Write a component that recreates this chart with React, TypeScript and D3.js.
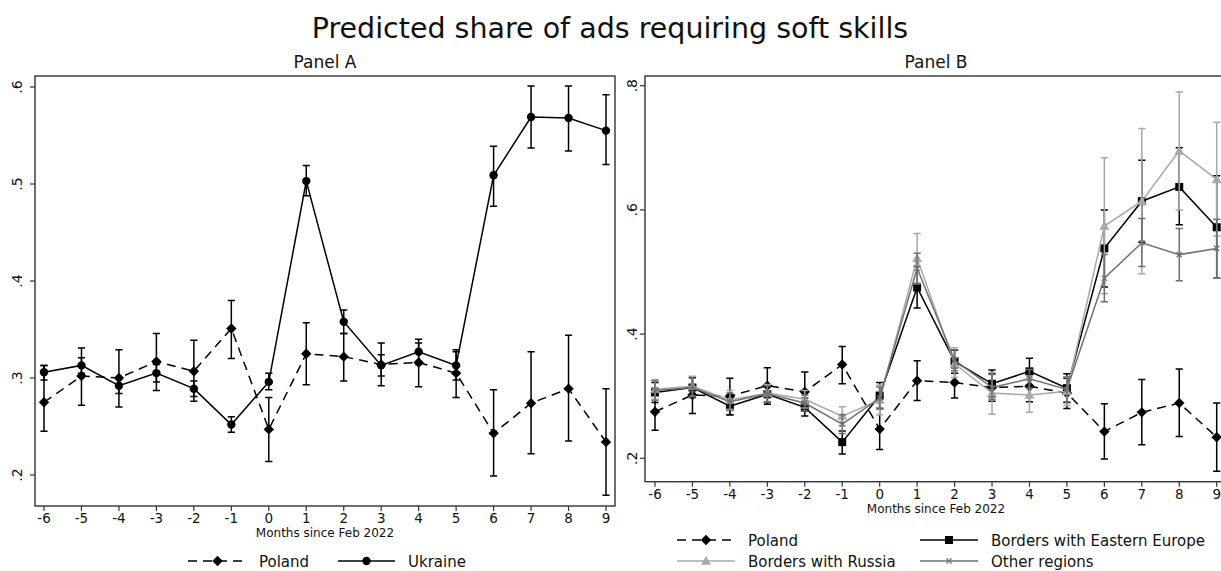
import React from "react";
import * as d3 from "d3";

const months = [-6, -5, -4, -3, -2, -1, 0, 1, 2, 3, 4, 5, 6, 7, 8, 9];

const polandVals = [0.275, 0.302, 0.300, 0.317, 0.307, 0.351, 0.247, 0.325, 0.322, 0.314, 0.316, 0.305, 0.243, 0.274, 0.289, 0.234];
const polandLo = [0.245, 0.272, 0.270, 0.287, 0.276, 0.320, 0.214, 0.293, 0.297, 0.292, 0.291, 0.280, 0.199, 0.222, 0.235, 0.179];
const polandHi = [0.313, 0.331, 0.329, 0.346, 0.339, 0.380, 0.280, 0.357, 0.346, 0.336, 0.336, 0.329, 0.288, 0.327, 0.344, 0.289];

const ukraineVals = [0.306, 0.313, 0.292, 0.305, 0.289, 0.252, 0.296, 0.503, 0.358, 0.313, 0.327, 0.313, 0.509, 0.569, 0.568, 0.555];
const ukraineLo = [0.298, 0.305, 0.284, 0.296, 0.281, 0.244, 0.288, 0.488, 0.346, 0.302, 0.314, 0.298, 0.477, 0.537, 0.534, 0.520];
const ukraineHi = [0.313, 0.321, 0.300, 0.314, 0.297, 0.260, 0.305, 0.519, 0.370, 0.324, 0.340, 0.327, 0.539, 0.601, 0.601, 0.592];

const eeVals = [0.306, 0.314, 0.284, 0.303, 0.282, 0.226, 0.301, 0.475, 0.356, 0.320, 0.340, 0.313, 0.538, 0.614, 0.637, 0.572];
const eeLo = [0.290, 0.298, 0.270, 0.290, 0.268, 0.207, 0.280, 0.442, 0.337, 0.299, 0.318, 0.290, 0.476, 0.548, 0.576, 0.490];
const eeHi = [0.322, 0.330, 0.299, 0.317, 0.297, 0.244, 0.322, 0.509, 0.374, 0.342, 0.361, 0.336, 0.600, 0.680, 0.700, 0.655];

const russiaVals = [0.311, 0.316, 0.294, 0.305, 0.295, 0.268, 0.294, 0.522, 0.352, 0.305, 0.302, 0.308, 0.574, 0.614, 0.695, 0.649];
const russiaLo = [0.295, 0.300, 0.279, 0.291, 0.281, 0.253, 0.270, 0.481, 0.330, 0.271, 0.274, 0.285, 0.465, 0.497, 0.600, 0.558];
const russiaHi = [0.327, 0.332, 0.309, 0.319, 0.309, 0.283, 0.318, 0.562, 0.378, 0.338, 0.330, 0.331, 0.684, 0.731, 0.790, 0.741];

const otherVals = [0.309, 0.314, 0.291, 0.304, 0.289, 0.255, 0.297, 0.506, 0.358, 0.314, 0.328, 0.311, 0.490, 0.547, 0.528, 0.538];
const otherLo = [0.293, 0.299, 0.277, 0.291, 0.276, 0.240, 0.280, 0.482, 0.341, 0.295, 0.313, 0.291, 0.452, 0.509, 0.486, 0.490];
const otherHi = [0.325, 0.329, 0.305, 0.317, 0.302, 0.270, 0.315, 0.530, 0.375, 0.335, 0.343, 0.331, 0.528, 0.586, 0.570, 0.585];

const yTicksA = [0.2, 0.3, 0.4, 0.5, 0.6];
const yTicksB = [0.2, 0.4, 0.6, 0.8];
const fmt = (v: number) => d3.format(".1f")(v).replace(/^0/, "");

const FONT = "DejaVu Sans, Verdana, sans-serif";

type Marker = "diamond" | "circle" | "square" | "triangle" | "x";
type Series = { name: string; vals: number[]; lo: number[]; hi: number[]; color: string; dash?: string; marker: Marker };

function MarkerShape({ kind, x, y, color }: { kind: Marker; x: number; y: number; color: string }) {
  if (kind === "diamond") {
    const r = 5.2;
    return <path d={`M${x},${y - r}L${x + r},${y}L${x},${y + r}L${x - r},${y}Z`} fill={color} />;
  }
  if (kind === "circle") return <circle cx={x} cy={y} r={4.2} fill={color} />;
  if (kind === "square") return <rect x={x - 4} y={y - 4} width={8} height={8} fill={color} />;
  if (kind === "triangle") {
    const r = 5;
    return <path d={`M${x},${y - r}L${x + r},${y + r * 0.75}L${x - r},${y + r * 0.75}Z`} fill={color} />;
  }
  const r = 2.6;
  return <path d={`M${x - r},${y - r}L${x + r},${y + r}M${x - r},${y + r}L${x + r},${y - r}`} stroke={color} strokeWidth={1.3} />;
}

function Panel({ title, series, xRange, yDomain, yRange, frame, yTicks, yLabelOffset }: {
  title: string; series: Series[]; xRange: [number, number]; yDomain: [number, number]; yRange: [number, number];
  frame: { l: number; r: number; t: number; b: number }; yTicks: number[]; yLabelOffset: number;
}) {
  const x = d3.scaleLinear().domain([-6, 9]).range(xRange);
  const y = d3.scaleLinear().domain(yDomain).range(yRange);
  const cx = (frame.l + frame.r) / 2;
  const cap = 3.6;
  return (
    <g>
      <text x={cx} y={68} textAnchor="middle" fontSize={17} fontFamily={FONT} fill="#111">{title}</text>
      <rect x={frame.l} y={frame.t} width={frame.r - frame.l} height={frame.b - frame.t} fill="none" stroke="#333" strokeWidth={1.4} />
      {yTicks.map((t) => (
        <g key={t}>
          <line x1={frame.l - 5} x2={frame.l} y1={y(t)} y2={y(t)} stroke="#333" strokeWidth={1.2} />
          <text transform={`translate(${frame.l - yLabelOffset},${y(t)}) rotate(-90)`} textAnchor="middle" fontSize={14} fontFamily={FONT} fill="#111">{fmt(t)}</text>
        </g>
      ))}
      {months.map((m) => (
        <g key={m}>
          <line x1={x(m)} x2={x(m)} y1={frame.b} y2={frame.b + 5} stroke="#333" strokeWidth={1.2} />
          <text x={x(m)} y={frame.b + 17} textAnchor="middle" fontSize={13.5} fontFamily={FONT} fill="#111">{m}</text>
        </g>
      ))}
      <text x={cx} y={frame.b + 31} textAnchor="middle" fontSize={12} fontFamily={FONT} fill="#111">Months since Feb 2022</text>
      {series.map((s) => {
        const line = d3.line<number>().x((_, i) => x(months[i])).y((v) => y(v));
        return (
          <g key={s.name}>
            {months.map((m, i) => (
              <path key={m}
                d={`M${x(m) - cap},${y(s.hi[i])}H${x(m) + cap}M${x(m)},${y(s.hi[i])}V${y(s.lo[i])}M${x(m) - cap},${y(s.lo[i])}H${x(m) + cap}`}
                stroke={s.color} strokeWidth={1.5} fill="none" />
            ))}
            <path d={line(s.vals) || ""} fill="none" stroke={s.color} strokeWidth={1.5} strokeDasharray={s.dash} />
            {months.map((m, i) => (
              <MarkerShape key={m} kind={s.marker} x={x(m)} y={y(s.vals[i])} color={s.color} />
            ))}
          </g>
        );
      })}
    </g>
  );
}

function LegendItem({ s, x1, x2, tx, y }: { s: Series; x1: number; x2: number; tx: number; y: number }) {
  return (
    <g>
      <line x1={x1} x2={x2} y1={y} y2={y} stroke={s.color} strokeWidth={1.5} strokeDasharray={s.dash} />
      <MarkerShape kind={s.marker} x={(x1 + x2) / 2} y={y} color={s.color} />
      <text x={tx} y={y + 5.5} fontSize={15} fontFamily={FONT} fill="#111">{s.name}</text>
    </g>
  );
}

export default function App() {
  const poland: Series = { name: "Poland", vals: polandVals, lo: polandLo, hi: polandHi, color: "#000", dash: "9,6", marker: "diamond" };
  const ukraine: Series = { name: "Ukraine", vals: ukraineVals, lo: ukraineLo, hi: ukraineHi, color: "#000", marker: "circle" };
  const ee: Series = { name: "Borders with Eastern Europe", vals: eeVals, lo: eeLo, hi: eeHi, color: "#000", marker: "square" };
  const russia: Series = { name: "Borders with Russia", vals: russiaVals, lo: russiaLo, hi: russiaHi, color: "#a8a8a8", marker: "triangle" };
  const other: Series = { name: "Other regions", vals: otherVals, lo: otherLo, hi: otherHi, color: "#707070", marker: "x" };

  return (
    <svg width={1221} height={571} style={{ position: "absolute", left: 0, top: 0, background: "#fff" }}>
      <rect width={1221} height={571} fill="#fff" />
      <text x={610} y={38} textAnchor="middle" fontSize={28.5} fontFamily={FONT} fill="#111">Predicted share of ads requiring soft skills</text>
      <Panel title="Panel A" series={[poland, ukraine]} xRange={[44, 606]} yDomain={[0.2, 0.6]} yRange={[475, 87]}
        frame={{ l: 35, r: 615, t: 76, b: 506 }} yTicks={yTicksA} yLabelOffset={13} />
      <Panel title="Panel B" series={[poland, ee, russia, other]} xRange={[655, 1216.7]} yDomain={[0.2, 0.8]} yRange={[458.3, 85.7]}
        frame={{ l: 645, r: 1227, t: 76, b: 481.7 }} yTicks={yTicksB} yLabelOffset={8} />
      <LegendItem s={poland} x1={188} x2={247} tx={259} y={561} />
      <LegendItem s={ukraine} x1={338} x2={395} tx={408} y={561} />
      <LegendItem s={poland} x1={677} x2={735} tx={748} y={540} />
      <LegendItem s={ee} x1={920} x2={978} tx={991} y={540} />
      <LegendItem s={russia} x1={677} x2={735} tx={748} y={561} />
      <LegendItem s={other} x1={920} x2={978} tx={991} y={561} />
    </svg>
  );
}
